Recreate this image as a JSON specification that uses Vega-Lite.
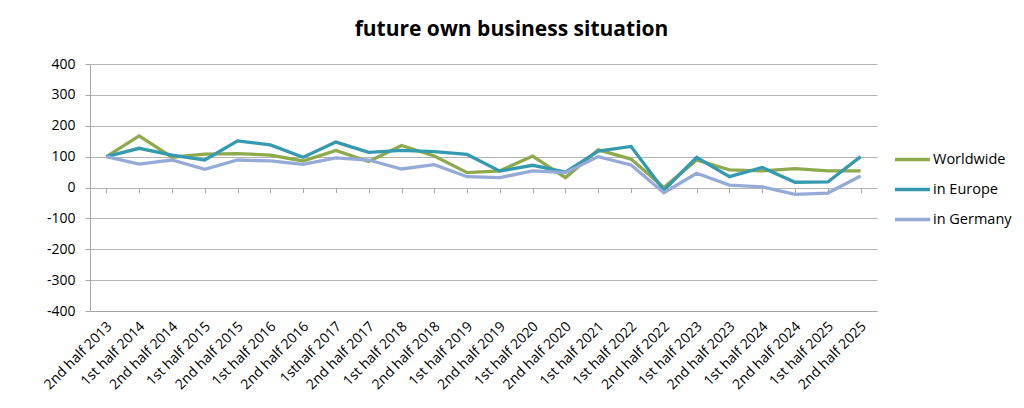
{
  "$schema": "https://vega.github.io/schema/vega-lite/v6.json",
  "autosize": {"type": "none"},
  "width": 787,
  "height": 247,
  "padding": {"left": 90, "top": 64, "right": 147, "bottom": 97},
  "background": "white",
  "config": {"font": "Open Sans", "view": {"stroke": null}},
  "title": {
    "text": "future own business situation",
    "font": "Open Sans",
    "fontSize": 21,
    "fontWeight": "bold",
    "color": "#000000",
    "anchor": "middle",
    "dx": 28,
    "baseline": "alphabetic",
    "offset": 0
  },
  "data": {
    "values": [
      {"period": "2nd  half 2013", "series": "Worldwide", "value": 100},
      {"period": "1st half 2014", "series": "Worldwide", "value": 167},
      {"period": "2nd half 2014", "series": "Worldwide", "value": 98},
      {"period": "1st half 2015", "series": "Worldwide", "value": 108},
      {"period": "2nd half 2015", "series": "Worldwide", "value": 110},
      {"period": "1st half 2016", "series": "Worldwide", "value": 105},
      {"period": "2nd half 2016", "series": "Worldwide", "value": 86},
      {"period": "1sthalf 2017", "series": "Worldwide", "value": 120},
      {"period": "2nd half 2017", "series": "Worldwide", "value": 84},
      {"period": "1st half 2018", "series": "Worldwide", "value": 136},
      {"period": "2nd half 2018", "series": "Worldwide", "value": 102},
      {"period": "1st half 2019", "series": "Worldwide", "value": 48},
      {"period": "2nd half 2019", "series": "Worldwide", "value": 54},
      {"period": "1st half 2020", "series": "Worldwide", "value": 102},
      {"period": "2nd half 2020", "series": "Worldwide", "value": 32},
      {"period": "1st half 2021", "series": "Worldwide", "value": 122},
      {"period": "1st half 2022", "series": "Worldwide", "value": 92},
      {"period": "2nd half 2022", "series": "Worldwide", "value": 0},
      {"period": "1st half 2023", "series": "Worldwide", "value": 89},
      {"period": "2nd half 2023", "series": "Worldwide", "value": 57},
      {"period": "1st half 2024", "series": "Worldwide", "value": 54},
      {"period": "2nd half 2024", "series": "Worldwide", "value": 61},
      {"period": "1st half 2025", "series": "Worldwide", "value": 54},
      {"period": "2nd half 2025", "series": "Worldwide", "value": 54},
      {"period": "2nd  half 2013", "series": "in Europe", "value": 100},
      {"period": "1st half 2014", "series": "in Europe", "value": 127},
      {"period": "2nd half 2014", "series": "in Europe", "value": 105},
      {"period": "1st half 2015", "series": "in Europe", "value": 89},
      {"period": "2nd half 2015", "series": "in Europe", "value": 151},
      {"period": "1st half 2016", "series": "in Europe", "value": 138},
      {"period": "2nd half 2016", "series": "in Europe", "value": 98},
      {"period": "1sthalf 2017", "series": "in Europe", "value": 147},
      {"period": "2nd half 2017", "series": "in Europe", "value": 114},
      {"period": "1st half 2018", "series": "in Europe", "value": 120},
      {"period": "2nd half 2018", "series": "in Europe", "value": 116},
      {"period": "1st half 2019", "series": "in Europe", "value": 107},
      {"period": "2nd half 2019", "series": "in Europe", "value": 53},
      {"period": "1st half 2020", "series": "in Europe", "value": 72},
      {"period": "2nd half 2020", "series": "in Europe", "value": 50},
      {"period": "1st half 2021", "series": "in Europe", "value": 118},
      {"period": "1st half 2022", "series": "in Europe", "value": 133},
      {"period": "2nd half 2022", "series": "in Europe", "value": -9},
      {"period": "1st half 2023", "series": "in Europe", "value": 98},
      {"period": "2nd half 2023", "series": "in Europe", "value": 35},
      {"period": "1st half 2024", "series": "in Europe", "value": 65},
      {"period": "2nd half 2024", "series": "in Europe", "value": 17},
      {"period": "1st half 2025", "series": "in Europe", "value": 18},
      {"period": "2nd half 2025", "series": "in Europe", "value": 100},
      {"period": "2nd  half 2013", "series": "in Germany", "value": 100},
      {"period": "1st half 2014", "series": "in Germany", "value": 76},
      {"period": "2nd half 2014", "series": "in Germany", "value": 89},
      {"period": "1st half 2015", "series": "in Germany", "value": 59},
      {"period": "2nd half 2015", "series": "in Germany", "value": 89},
      {"period": "1st half 2016", "series": "in Germany", "value": 86},
      {"period": "2nd half 2016", "series": "in Germany", "value": 75},
      {"period": "1sthalf 2017", "series": "in Germany", "value": 96},
      {"period": "2nd half 2017", "series": "in Germany", "value": 89},
      {"period": "1st half 2018", "series": "in Germany", "value": 60},
      {"period": "2nd half 2018", "series": "in Germany", "value": 74},
      {"period": "1st half 2019", "series": "in Germany", "value": 35},
      {"period": "2nd half 2019", "series": "in Germany", "value": 32},
      {"period": "1st half 2020", "series": "in Germany", "value": 54},
      {"period": "2nd half 2020", "series": "in Germany", "value": 48},
      {"period": "1st half 2021", "series": "in Germany", "value": 100},
      {"period": "1st half 2022", "series": "in Germany", "value": 73},
      {"period": "2nd half 2022", "series": "in Germany", "value": -17},
      {"period": "1st half 2023", "series": "in Germany", "value": 46},
      {"period": "2nd half 2023", "series": "in Germany", "value": 8},
      {"period": "1st half 2024", "series": "in Germany", "value": 2},
      {"period": "2nd half 2024", "series": "in Germany", "value": -22},
      {"period": "1st half 2025", "series": "in Germany", "value": -18},
      {"period": "2nd half 2025", "series": "in Germany", "value": 37}
    ]
  },
  "layer": [
    {
      "mark": {"type": "line", "strokeWidth": 3.3, "strokeCap": "butt", "strokeJoin": "miter"},
      "encoding": {
        "x": {
          "field": "period",
          "type": "ordinal",
          "sort": null,
          "scale": {"paddingInner": 0, "paddingOuter": 0},
          "axis": {
            "title": null,
            "labelAngle": -45,
            "labelAlign": "right",
            "labelBaseline": "middle",
            "labelFont": "Open Sans",
            "labelFontSize": 14,
            "labelColor": "#000000",
            "labelPadding": 13,
            "labelOffset": 3,
            "labelOverlap": false,
            "ticks": false,
            "domainColor": "#A6A6A6",
            "domainWidth": 1,
            "grid": false
          }
        },
        "y": {
          "field": "value",
          "type": "quantitative",
          "scale": {"domain": [-400, 400], "nice": false, "zero": false},
          "axis": {
            "title": null,
            "values": [-400, -300, -200, -100, 0, 100, 200, 300, 400],
            "labelExpr": "'' + datum.value",
            "labelOverlap": false,
            "labelFont": "Open Sans",
            "labelFontSize": 14,
            "labelColor": "#000000",
            "labelPadding": 10,
            "tickSize": 5,
            "tickColor": "#A6A6A6",
            "domainColor": "#A6A6A6",
            "gridColor": "#B4B4B4",
            "gridWidth": 1.2
          }
        },
        "color": {
          "field": "series",
          "type": "nominal",
          "sort": ["Worldwide", "in Europe", "in Germany"],
          "scale": {"domain": ["Worldwide", "in Europe", "in Germany"], "range": ["#8DAA4C", "#3599AF", "#95AAD6"]},
          "legend": {
            "title": null,
            "orient": "none",
            "legendX": 803,
            "legendY": 76,
            "symbolType": "stroke",
            "symbolStrokeWidth": 3.3,
            "symbolSize": 1225,
            "labelFont": "Open Sans",
            "labelFontSize": 14.5,
            "labelColor": "#000000",
            "labelOffset": 1,
            "rowPadding": 3
          }
        }
      }
    },
    {
      "mark": {"type": "line", "opacity": 0},
      "encoding": {
        "x": {
          "field": "period",
          "type": "ordinal",
          "sort": null,
          "scale": {"paddingInner": 0, "paddingOuter": 0},
          "axis": {
            "orient": "bottom",
            "offset": -123.5,
            "labels": false,
            "domain": false,
            "grid": false,
            "title": null,
            "ticks": true,
            "bandPosition": 0,
            "tickSize": 5,
            "tickColor": "#A6A6A6"
          }
        },
        "y": {
          "field": "value",
          "type": "quantitative",
          "scale": {"domain": [-400, 400], "nice": false, "zero": false},
          "axis": {
            "title": null,
            "values": [-400, -300, -200, -100, 0, 100, 200, 300, 400],
            "labelExpr": "'' + datum.value",
            "labelOverlap": false,
            "labelFont": "Open Sans",
            "labelFontSize": 14,
            "labelColor": "#000000",
            "labelPadding": 10,
            "tickSize": 5,
            "tickColor": "#A6A6A6",
            "domainColor": "#A6A6A6",
            "gridColor": "#B4B4B4",
            "gridWidth": 1.2
          }
        },
        "detail": {"field": "series"}
      }
    }
  ],
  "resolve": {"axis": {"x": "independent"}}
}
